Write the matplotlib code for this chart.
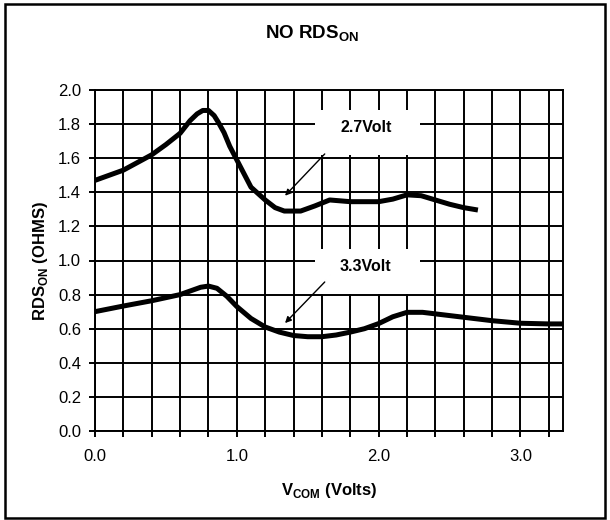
import numpy as np
import matplotlib
matplotlib.use("Agg")
import matplotlib.pyplot as plt
from matplotlib.patches import Rectangle

plt.rcParams['font.family'] = ['Liberation Sans', 'DejaVu Sans']
plt.rcParams['mathtext.fontset'] = 'custom'
plt.rcParams['mathtext.rm'] = 'Liberation Sans'
plt.rcParams['mathtext.bf'] = 'Liberation Sans:bold'

# 2.7 V supply curve
v27_x = [0.0, 0.1, 0.2, 0.3, 0.4, 0.5, 0.6, 0.67, 0.72, 0.76, 0.8, 0.84, 0.87,
         0.91, 0.95, 1.0, 1.075, 1.1, 1.2, 1.27, 1.335, 1.45, 1.55, 1.655,
         1.8, 2.0, 2.1, 2.2, 2.3, 2.4, 2.5, 2.6, 2.7]
v27_y = [1.47, 1.50, 1.53, 1.575, 1.62, 1.68, 1.746, 1.82, 1.86, 1.88, 1.88, 1.85, 1.81,
         1.75, 1.67, 1.59, 1.47, 1.43, 1.355, 1.31, 1.29, 1.29, 1.32, 1.355,
         1.345, 1.345, 1.36, 1.385, 1.38, 1.355, 1.33, 1.31, 1.296]

# 3.3 V supply curve
v33_x = [0.0, 0.2, 0.4, 0.6, 0.745, 0.8, 0.86, 0.93, 1.0, 1.1, 1.2, 1.3,
         1.4, 1.5, 1.6, 1.7, 1.8, 1.9, 2.0, 2.1, 2.2, 2.31, 2.4, 2.6,
         2.8, 3.0, 3.2, 3.3]
v33_y = [0.70, 0.733, 0.764, 0.80, 0.843, 0.85, 0.837, 0.79, 0.73, 0.66, 0.61, 0.58,
         0.56, 0.553, 0.553, 0.563, 0.58, 0.60, 0.63, 0.67, 0.696, 0.696, 0.687, 0.667,
         0.647, 0.632, 0.628, 0.628]

x_major = [0.0, 1.0, 2.0, 3.0]
y_ticks = [0.0, 0.2, 0.4, 0.6, 0.8, 1.0, 1.2, 1.4, 1.6, 1.8, 2.0]

fig = plt.figure(figsize=(6.1, 5.2), dpi=100)
ax = fig.add_axes([95 / 610, 1 - 431 / 520, 468 / 610, 341 / 520])

# outer frame round the whole figure
fig.patches.append(Rectangle((5 / 610, 2 / 520), 600 / 610, 514 / 520, transform=fig.transFigure,
                             fill=False, edgecolor='black', linewidth=1.8))

ax.plot(v27_x, v27_y, color='black', linewidth=3.6, solid_joinstyle='round',
        solid_capstyle='butt', zorder=4)
ax.plot(v33_x, v33_y, color='black', linewidth=3.6, solid_joinstyle='round',
        solid_capstyle='butt', zorder=4)

ax.set_xlim(0, 3.3)
ax.set_ylim(0, 2.0)
ax.set_xticks(x_major)
ax.set_xticklabels([f"{v:.1f}" for v in x_major])
ax.set_xticks(np.arange(0, 3.21, 0.2), minor=True)
ax.set_yticks(y_ticks)
ax.set_yticklabels([f"{v:.1f}" for v in y_ticks])
ax.grid(True, which='both', color='black', linewidth=1.4, zorder=1)
ax.set_axisbelow(True)
ax.tick_params(which='both', direction='out', length=4, width=1.4, labelsize=12, pad=6)
ax.tick_params(axis='x', pad=9)
ax.tick_params(axis='x', which='minor', labelbottom=False)
for sp in ax.spines.values():
    sp.set_linewidth(1.4)

# white label boxes with arrows
for lab, yc, tip, tail in [("2.7Volt", 1.75, (1.34, 1.38), (1.62, 1.625)),
                           ("3.3Volt", 0.935, (1.34, 0.633), (1.62, 0.874))]:
    ax.add_patch(Rectangle((1.55, yc - 0.13), 0.74, 0.26, facecolor='white',
                           edgecolor='none', zorder=2))
    ax.text(1.91, yc + 0.03, lab, ha='center', va='center', fontsize=11.5,
            fontweight='bold', zorder=3)
    ax.annotate('', xy=tip, xytext=tail,
                arrowprops=dict(arrowstyle='-|>', color='black', lw=1.0,
                                mutation_scale=9, shrinkA=0, shrinkB=0), zorder=3)

fig.text(0.511, 0.934, r"NO RDS$_{\mathbf{ON}}$", ha='center', va='center',
         fontsize=13.5, fontweight='bold')
ax.set_xlabel(r"V$_{\mathbf{COM}}$ (Volts)", fontsize=12, fontweight='bold', labelpad=12)
ax.set_ylabel(r"RDS$_{\mathbf{ON}}$ (OHMS)", fontsize=12, fontweight='bold', labelpad=6)

fig.savefig("out.png", dpi=100)
